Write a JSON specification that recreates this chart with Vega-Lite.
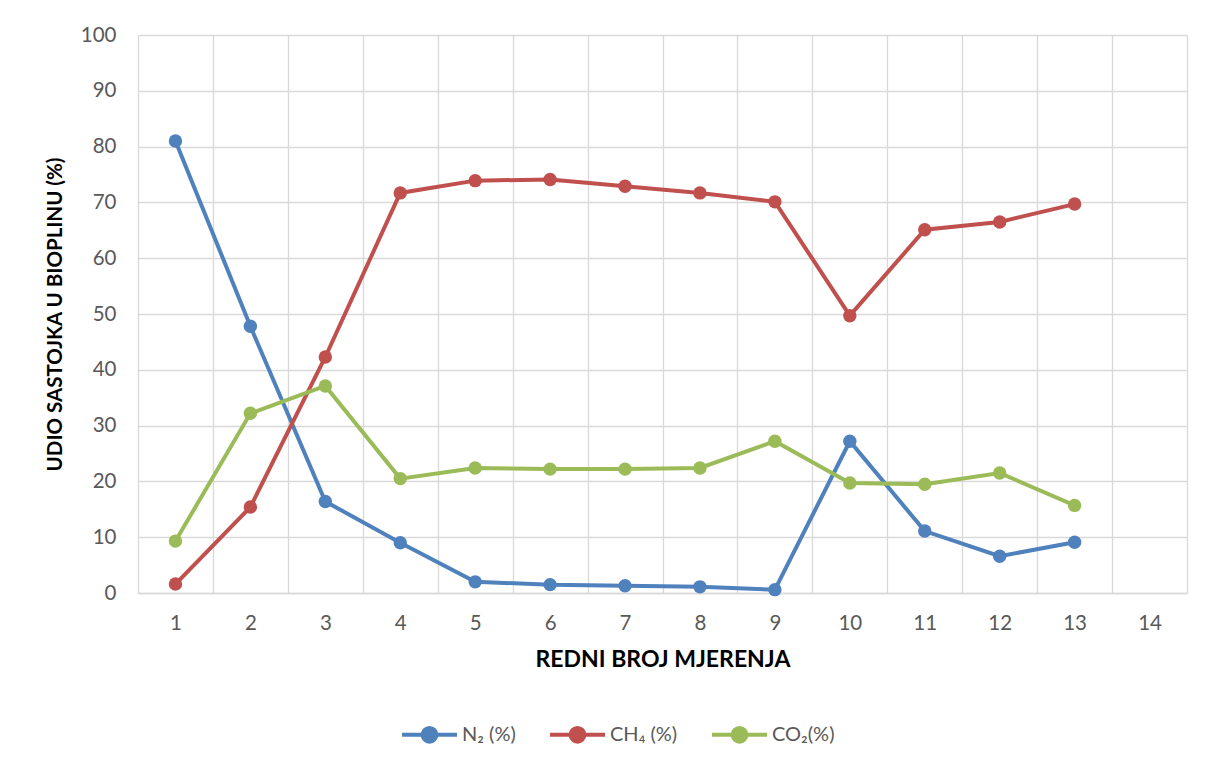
{
  "$schema": "https://vega.github.io/schema/vega-lite/v6.json",
  "width": 1049,
  "height": 558,
  "autosize": {"type": "none"},
  "padding": {"left": 138, "top": 35, "right": 27, "bottom": 176},
  "background": "white",
  "config": {
    "font": "Lato",
    "view": {"stroke": null},
    "axis": {"gridColor": "#d9d9d9", "gridWidth": 1.3, "labelColor": "#595959", "labelFont": "Lato", "labelFontSize": 20.5, "titleFont": "Lato", "titleFontWeight": "bold", "titleColor": "#000000"}
  },
  "data": {
    "values": [
      {"n": 1, "series": "N₂ (%)", "value": 81.0},
      {"n": 2, "series": "N₂ (%)", "value": 47.8},
      {"n": 3, "series": "N₂ (%)", "value": 16.4},
      {"n": 4, "series": "N₂ (%)", "value": 9.0},
      {"n": 5, "series": "N₂ (%)", "value": 2.0},
      {"n": 6, "series": "N₂ (%)", "value": 1.5},
      {"n": 7, "series": "N₂ (%)", "value": 1.3},
      {"n": 8, "series": "N₂ (%)", "value": 1.1},
      {"n": 9, "series": "N₂ (%)", "value": 0.6},
      {"n": 10, "series": "N₂ (%)", "value": 27.2},
      {"n": 11, "series": "N₂ (%)", "value": 11.1},
      {"n": 12, "series": "N₂ (%)", "value": 6.6},
      {"n": 13, "series": "N₂ (%)", "value": 9.1},
      {"n": 1, "series": "CH₄ (%)", "value": 1.6},
      {"n": 2, "series": "CH₄ (%)", "value": 15.4},
      {"n": 3, "series": "CH₄ (%)", "value": 42.3},
      {"n": 4, "series": "CH₄ (%)", "value": 71.7},
      {"n": 5, "series": "CH₄ (%)", "value": 73.9},
      {"n": 6, "series": "CH₄ (%)", "value": 74.1},
      {"n": 7, "series": "CH₄ (%)", "value": 72.9},
      {"n": 8, "series": "CH₄ (%)", "value": 71.7},
      {"n": 9, "series": "CH₄ (%)", "value": 70.1},
      {"n": 10, "series": "CH₄ (%)", "value": 49.7},
      {"n": 11, "series": "CH₄ (%)", "value": 65.1},
      {"n": 12, "series": "CH₄ (%)", "value": 66.5},
      {"n": 13, "series": "CH₄ (%)", "value": 69.7},
      {"n": 1, "series": "CO₂(%)", "value": 9.3},
      {"n": 2, "series": "CO₂(%)", "value": 32.2},
      {"n": 3, "series": "CO₂(%)", "value": 37.1},
      {"n": 4, "series": "CO₂(%)", "value": 20.5},
      {"n": 5, "series": "CO₂(%)", "value": 22.4},
      {"n": 6, "series": "CO₂(%)", "value": 22.2},
      {"n": 7, "series": "CO₂(%)", "value": 22.2},
      {"n": 8, "series": "CO₂(%)", "value": 22.4},
      {"n": 9, "series": "CO₂(%)", "value": 27.2},
      {"n": 10, "series": "CO₂(%)", "value": 19.7},
      {"n": 11, "series": "CO₂(%)", "value": 19.5},
      {"n": 12, "series": "CO₂(%)", "value": 21.5},
      {"n": 13, "series": "CO₂(%)", "value": 15.7}
    ]
  },
  "mark": {"type": "line", "strokeWidth": 4, "point": {"size": 180, "filled": true, "opacity": 1}},
  "encoding": {
    "x": {
      "field": "n",
      "type": "ordinal",
      "scale": {"domain": [1, 2, 3, 4, 5, 6, 7, 8, 9, 10, 11, 12, 13, 14], "paddingInner": 0, "paddingOuter": 0},
      "axis": {
        "title": "REDNI BROJ MJERENJA",
        "titleFontSize": 23,
        "labelAngle": 0,
        "grid": true,
        "tickBand": "extent",
        "ticks": false,
        "domain": true,
        "domainColor": "#d9d9d9",
        "domainWidth": 1.3,
        "labelPadding": 20,
        "titlePadding": 15
      }
    },
    "y": {
      "field": "value",
      "type": "quantitative",
      "scale": {"domain": [0, 100], "nice": false},
      "axis": {
        "title": "UDIO SASTOJKA  U BIOPLINU (%)",
        "titleFontSize": 20.5,
        "values": [0, 10, 20, 30, 40, 50, 60, 70, 80, 90, 100],
        "grid": true,
        "ticks": false,
        "domain": false,
        "labelPadding": 22,
        "titlePadding": 15
      }
    },
    "color": {
      "field": "series",
      "type": "nominal",
      "sort": null,
      "scale": {"domain": ["N₂ (%)", "CH₄ (%)", "CO₂(%)"], "range": ["#4F81BD", "#C0504D", "#9BBB59"]},
      "legend": {
        "title": null,
        "orient": "none",
        "direction": "horizontal",
        "legendX": 262,
        "legendY": 670,
        "symbolType": "M-1,0L1,0M0.25,0A0.25,0.25 0 1 1 -0.25,0A0.25,0.25 0 1 1 0.25,0Z",
        "symbolSize": 3025,
        "symbolStrokeWidth": 4,
        "labelFontSize": 20,
        "labelColor": "#595959",
        "labelOffset": 3,
        "columnPadding": 26,
        "encode": {"symbols": {"update": {"fill": {"scale": "color", "field": "value"}, "stroke": {"scale": "color", "field": "value"}}}}
      }
    }
  }
}
